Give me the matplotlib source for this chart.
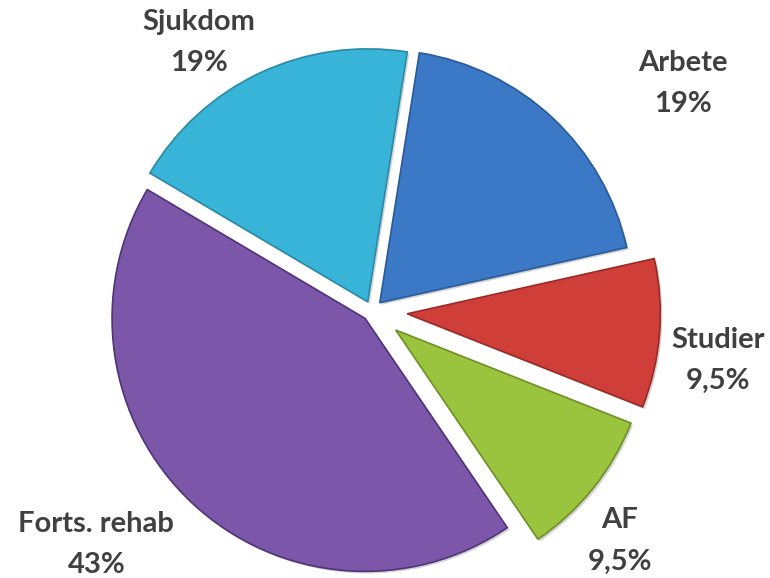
import matplotlib
matplotlib.use("Agg")
import matplotlib.pyplot as plt
from matplotlib import patheffects as pe

categories = ["Arbete", "Studier", "AF", "Forts. rehab", "Sjukdom"]
values = [19, 9.5, 9.5, 43, 19]
value_labels = ["19%", "9,5%", "9,5%", "43%", "19%"]
colors = ["#3b78c6", "#d03e3a", "#9ac43e", "#7c56a8", "#38b4d8"]
edge_colors = ["#2a5a98", "#9a2a26", "#6e8f28", "#4f3478", "#2a8aa6"]
explode = [0.045, 0.14, 0.12, 0.04, 0.04]

# label positions in axes fraction (layout)
label_pos = [(0.887, 0.856), (0.932, 0.376), (0.805, 0.064), (0.125, 0.058), (0.258, 0.926)]

fig = plt.figure(figsize=(7.7, 5.78), dpi=100)
ax = fig.add_axes([0, 0, 1, 1])

wedges, _ = ax.pie(values, colors=colors, explode=explode, startangle=81,
                   counterclock=False, radius=1.0, center=(0, 0),
                   wedgeprops=dict(linewidth=1.2))
for w, ec in zip(wedges, edge_colors):
    w.set_edgecolor(ec)
    w.set_path_effects([pe.SimplePatchShadow(offset=(1.5, -1.5), shadow_rgbFace="#808080", alpha=0.35),
                        pe.Normal()])

scale = 253.0
cx, cy = 372.0, 578 - 311.0
ax.set_xlim(-cx / scale, (770 - cx) / scale)
ax.set_ylim(-cy / scale, (578 - cy) / scale)
ax.set_aspect("equal")
ax.axis("off")

for cat, lab, (x, y) in zip(categories, value_labels, label_pos):
    ax.text(x, y, f"{cat}\n{lab}", transform=ax.transAxes, ha="center", va="center",
            fontsize=21, fontweight="bold", family=["Lato", "DejaVu Sans"],
            color="#404040", linespacing=1.72)

fig.savefig("out.png", dpi=100)
